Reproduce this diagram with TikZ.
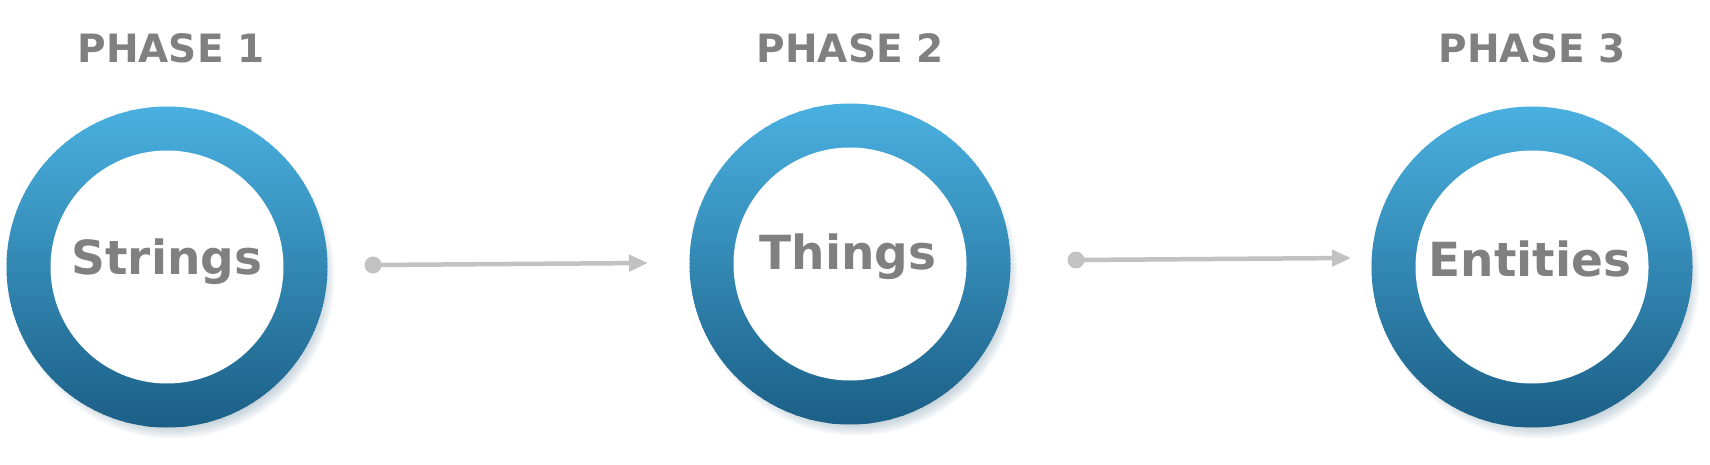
\documentclass[tikz,border=0pt]{standalone}
\usepackage{fontspec}
\setmainfont{DejaVu Sans}
\usetikzlibrary{arrows.meta}
\definecolor{txtgray}{HTML}{808080}
\definecolor{arrgray}{HTML}{C2C2C2}
\definecolor{ringtop}{HTML}{4AB0E0}
\definecolor{ringbot}{HTML}{1B5F86}
\definecolor{shadowc}{HTML}{5A7F96}
\tikzset{
  ringbox/.style={circle, minimum size=321pt, inner sep=0pt, draw=none},
  hole/.style={circle, minimum size=233pt, inner sep=0pt, fill=white},
  label/.style={text=txtgray, font=\bfseries\fontsize{47}{50}\selectfont},
  phase/.style={text=txtgray, font=\bfseries\fontsize{39}{42}\selectfont},
  flow/.style={draw=arrgray, line width=4.5pt, -{Triangle[length=19pt,width=16pt]}},
  dotc/.style={circle, fill=arrgray, inner sep=0pt, minimum size=17pt}
}
\begin{document}
\begin{tikzpicture}[x=1pt,y=-1pt]
\useasboundingbox (0,0) rectangle (1710,465);
\node[ringbox] (r1) at (167,267) {};
\node[ringbox] (r2) at (850,264) {};
\node[ringbox] (r3) at (1532,267) {};
\foreach \r in {r1,r2,r3}{
  \foreach \k in {1,...,14}{
    \fill[shadowc, opacity=0.03] ([shift={(6,10)}]\r.center) circle[radius=148pt+\k pt];
  }
  \begin{scope}
    \clip (\r.center) circle[radius=160.5pt];
    \foreach \i in {0,...,80}{
      \pgfmathsetmacro\p{100-\i*1.25}
      \fill[ringtop!\p!ringbot] ([shift={(-162,-161+\i*4)}]\r.center) rectangle ++(324,4.6);
    }
  \end{scope}
}
\node[hole] (c1) at (r1.center) {};
\node[hole] (c2) at (r2.center) {};
\node[hole] (c3) at (r3.center) {};
\node[label] (t1) at (167,262) {Strings};
\node[label] (t2) at (848,257) {Things};
\node[label] (t3) at (1530,259) {Entities};
\node[phase] (p1) at (171,48) {PHASE 1};
\node[phase] (p2) at (850,48) {PHASE 2};
\node[phase] (p3) at (1532,48) {PHASE 3};
\node[dotc] (d1) at (373,265) {};
\node[dotc] (d2) at (1076,260) {};
\coordinate (e1) at (648,263);
\coordinate (e2) at (1351,258);
\draw[flow] (d1.center) -- (e1);
\draw[flow] (d2.center) -- (e2);
\end{tikzpicture}
\end{document}
